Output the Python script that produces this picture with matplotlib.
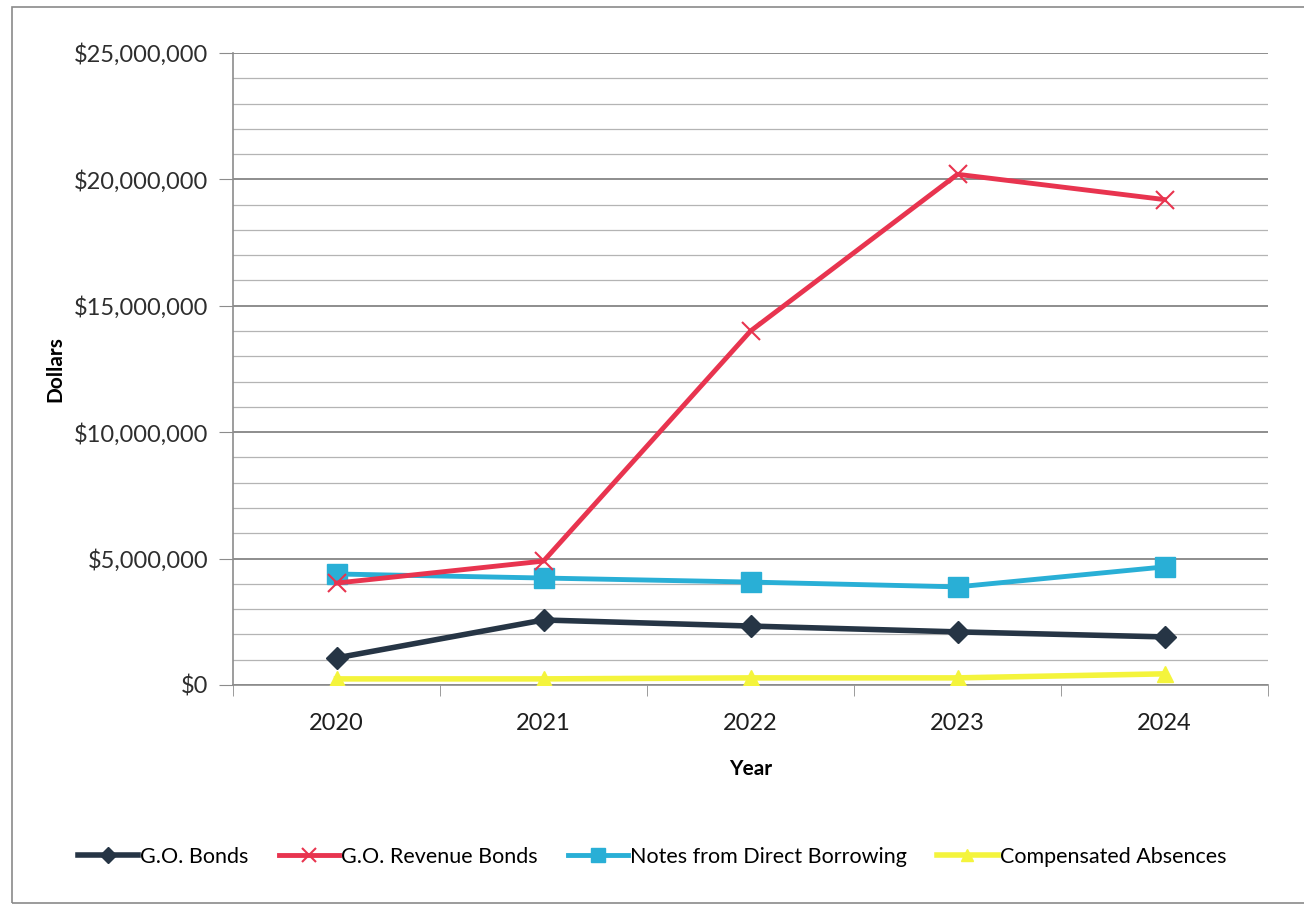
import matplotlib.pyplot as plt
from matplotlib.patches import Rectangle
from matplotlib.ticker import FuncFormatter, MultipleLocator

plt.rcParams['font.family'] = ['Lato', 'DejaVu Sans']

# 연도별 부채 잔액 (달러)
years = ['2020', '2021', '2022', '2023', '2024']
go_bonds = [1070000, 2570000, 2330000, 2100000, 1900000]
go_revenue_bonds = [4030000, 4900000, 14000000, 20200000, 19200000]
direct_borrowing = [4390000, 4230000, 4070000, 3880000, 4670000]
comp_absences = [240000, 240000, 280000, 280000, 440000]

series_names = ['G.O. Bonds', 'G.O. Revenue Bonds',
                'Notes from Direct Borrowing', 'Compensated Absences']

fig = plt.figure(figsize=(13.04, 9.10), dpi=100)
ax = fig.add_axes([0.1787, 0.2473, 0.7937, 0.6945])

# 차트 바깥 테두리
fig.patches.append(Rectangle((12 / 1304, 7 / 910), 1.1, 896 / 910,
                             transform=fig.transFigure, fill=False,
                             edgecolor='#8a8a8a', linewidth=1.2))

x = list(range(len(years)))
ax.plot(x, go_bonds, color='#263545', lw=4, marker='D', ms=11,
        label=series_names[0], zorder=4)
ax.plot(x, go_revenue_bonds, color='#e8344f', lw=3.5, marker='x', ms=13,
        mew=1.5, label=series_names[1], zorder=4)
ax.plot(x, direct_borrowing, color='#29afd6', lw=3.5, marker='s', ms=14,
        label=series_names[2], zorder=3)
ax.plot(x, comp_absences, color='#f4f43c', lw=4, marker='^', ms=12,
        label=series_names[3], zorder=3)

# 축 범위와 눈금
ax.set_xlim(-0.5, 4.5)
ax.set_ylim(0, 25000000)
ax.yaxis.set_major_locator(MultipleLocator(5000000))
ax.yaxis.set_minor_locator(MultipleLocator(1000000))
ax.yaxis.set_major_formatter(FuncFormatter(lambda v, p: '${:,.0f}'.format(v)))
ax.set_xticks(x)
ax.set_xticklabels(years)
ax.set_xticks([i - 0.5 for i in range(len(years) + 1)], minor=True)

ax.grid(True, axis='y', which='major', color='#858585', lw=1.3)
ax.grid(True, axis='y', which='minor', color='#b4b4b4', lw=0.9)
ax.set_axisbelow(True)

for side in ['top', 'right']:
    ax.spines[side].set_visible(False)
for side in ['left', 'bottom']:
    ax.spines[side].set_color('#8c8c8c')
    ax.spines[side].set_linewidth(1.2)

ax.tick_params(axis='y', which='major', length=10, color='#8c8c8c',
               labelsize=17, labelcolor='#2e2e2e', pad=8)
ax.tick_params(axis='y', which='minor', length=0)
ax.tick_params(axis='x', which='major', length=0, labelsize=17,
               labelcolor='#1e1e1e', pad=20)
ax.tick_params(axis='x', which='minor', length=8, color='#8c8c8c')

ax.set_ylabel('Dollars', fontsize=15, fontweight='bold', labelpad=6)
ax.set_xlabel('Year', fontsize=15, fontweight='bold', labelpad=18)

# 범례 (그림 가운데 정렬)
handles, labels = ax.get_legend_handles_labels()
fig.legend(handles, labels, loc='center', bbox_to_anchor=(0.5, 1 - 857 / 910),
           ncol=4, frameon=False, fontsize=15.5, handlelength=2.8,
           handletextpad=0.1, columnspacing=1.4, markerscale=0.75)

fig.savefig('out.png', dpi=100)
